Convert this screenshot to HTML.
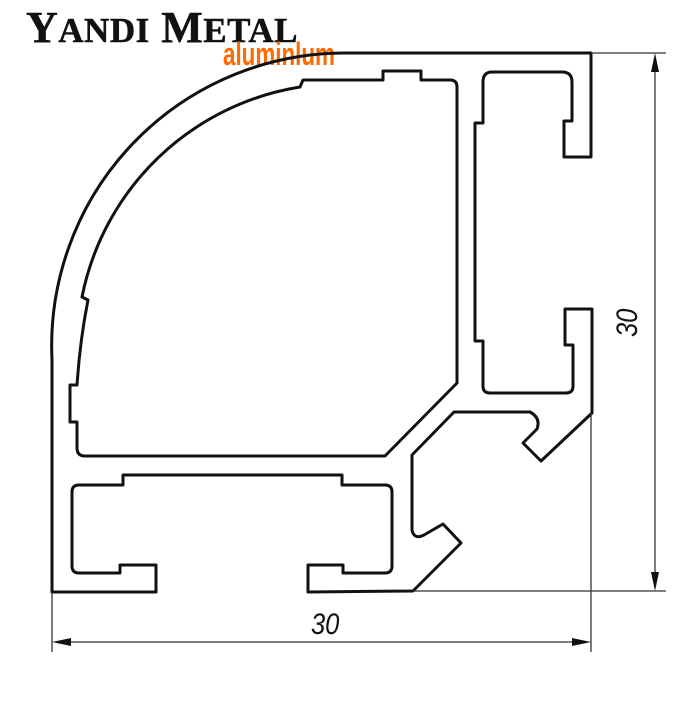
<!DOCTYPE html>
<html><head><style>
body{margin:0;background:#fff;width:700px;height:700px;overflow:hidden}
</style></head><body>
<svg width="700" height="700" viewBox="0 0 700 700" xmlns="http://www.w3.org/2000/svg">
<rect width="700" height="700" fill="#fff"/>
<text x="26" y="42" font-family="Liberation Serif, serif" font-weight="bold" font-size="44" fill="#111" stroke="#111" stroke-width="0.5" letter-spacing="0.5">Y<tspan font-size="35">ANDI</tspan> M<tspan font-size="35">ETAL</tspan></text>
<text x="223" y="65" font-family="Liberation Sans, sans-serif" font-weight="bold" font-size="32" fill="#ff6a00" transform="translate(223,0) scale(0.7,1) translate(-223,0)">aluminlum</text>
<g fill="none" stroke="#111" stroke-width="3" stroke-linejoin="round">
<path d="M52 592 L52 360 A293 293 0 0 1 345 53 L591 53 L591 157 L564 157 L564 121 L572 121 L572 82 Q572 72 562 72 L492 72 Q483 72 483 82 L483 123 L475 123 L475 341 L483 341 L483 386 Q483 393 490 393 L566 393 Q573 393 573 386 L573 345 L565 345 L565 309 L592 309 L592 413 L541 461 L523 443 L537 429 Q541 418 530 412 L454 412 L412 455 L412 530 Q414 540 424 535 L443 524 L461 543 L413 591 L308 592 L308 565 L343 565 L343 573 L385 573 Q392 573 392 566 L392 492 Q392 485 385 485 L342 485 L342 475 L123 475 L123 485 L79 485 Q72 485 72 492 L72 566 Q72 573 79 573 L120 573 L120 565 L156 565 L156 592 Z"/>
<path d="M300 87 L303 80 L383 80 L383 71 L421 71 L421 80 L450 80 Q457 80 457 87 L457 383 L385 456 L85 456 Q77 456 77 448 L77 422 L70 422 L70 385 L77 385 Q80 340 88 300 L82 297 A265 265 0 0 1 300 87 Z"/>
</g>
<g stroke="#333" stroke-width="1.3" fill="none">
<line x1="591" y1="53" x2="666" y2="53"/>
<line x1="413" y1="591" x2="666" y2="591"/>
<line x1="655" y1="60" x2="655" y2="584"/>
<line x1="52" y1="592" x2="52" y2="652"/>
<line x1="591" y1="413" x2="591" y2="652"/>
<line x1="60" y1="642" x2="583" y2="642"/>
</g>
<g fill="#111">
<polygon points="655,53 651,72 659,72"/>
<polygon points="655,591 651,572 659,572"/>
<polygon points="52,642 71,638 71,646"/>
<polygon points="591,642 572,638 572,646"/>
</g>
<text x="311" y="634" font-family="Liberation Sans, sans-serif" font-style="italic" font-size="30" fill="#111" transform="translate(311,0) scale(0.85,1) translate(-311,0)">30</text>
<text transform="translate(637,337) rotate(-90) scale(0.85,1)" font-family="Liberation Sans, sans-serif" font-style="italic" font-size="30" fill="#111">30</text>
</svg>
</body></html>
